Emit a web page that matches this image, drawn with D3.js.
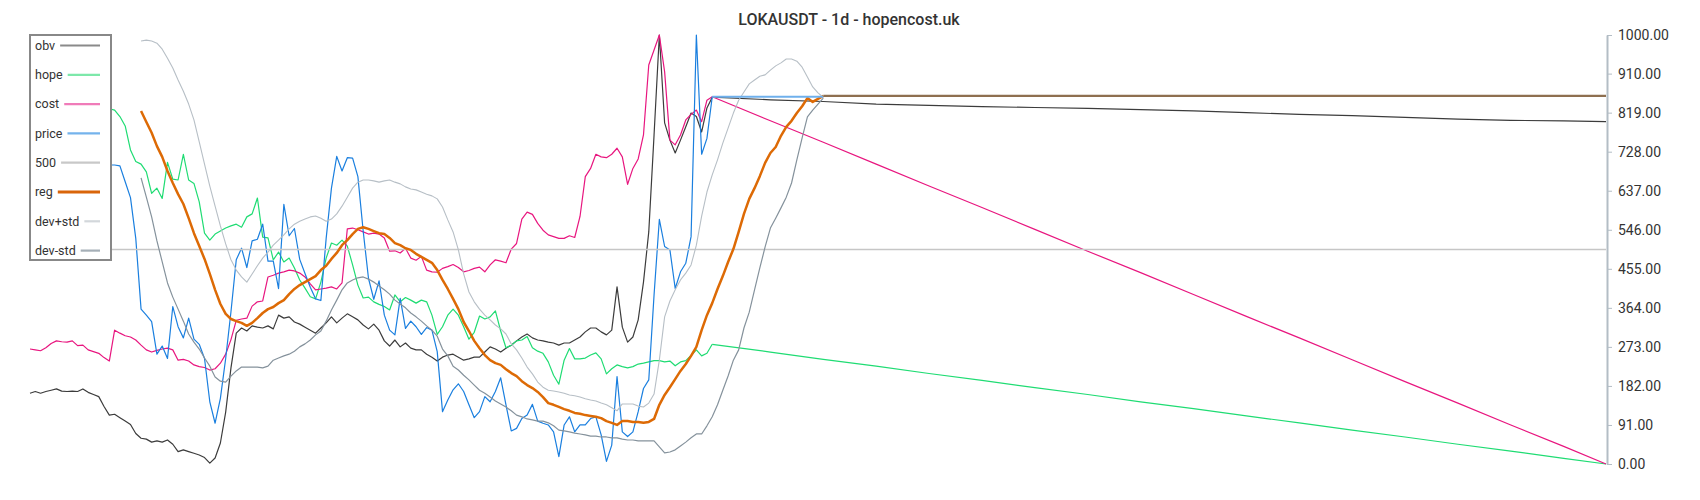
<!DOCTYPE html>
<html lang="en">
  <head>
    <title>LOKAUSDT - 1d</title>
    <script src="https://d3js.org/d3.v7.min.js"></script>
    <style>
      body
      {
        margin: 0;
        background: #fff;
      }
      svg
      {
        font-family: Roboto, "Noto Sans", sans-serif;
      }
      path.series
      {
        fill: none;
        stroke-linejoin: round;
      }
    </style>
  </head>
  <body>
    <svg width="1700" height="500">
      <g id="lines"></g>
      <g id="axis"></g>
      <g id="legend"></g>
    </svg>

    <script>
      // day index 0..lastDay, one value per day
      var lastDay = 298;
      var yTicks = [0, 91, 182, 273, 364, 455, 546, 637, 728, 819, 910, 1000];

      // obv, hope, cost, price: days 0..129
      var obv = [165,169,165,169,172,175,170,169,170,169,175,167,162,157,134,114,116,108,100,92,
                 71,60,58,51,54,51,56,46,29,33,29,25,21,15,
                 2,14,49,121,224,305,317,310,322,319,317,322,315,347,340,343,331,326,319,312,
                 305,317,329,343,329,340,350,343,336,324,315,326,312,
                 287,275,289,273,282,270,266,266,256,249,240,249,254,256,249,242,245,249,249,261,
                 273,268,261,270,277,287,296,303,294,289,287,284,282,
                 277,282,282,289,296,308,317,317,308,301,312,413,319,284,296,336,424,541,767,1000,
                 795,755,725,755,786,818,810,774,830,855];

      var hope = [865,860,858,855,850,848,845,845,842,840,838,836,834,832,830,828,
                  825,810,788,732,705,699,681,631,643,619,703,664,662,722,662,654,611,538,
                  522,536,543,550,555,559,552,576,583,620,529,527,476,494,471,480,457,429,410,390,
                  385,424,480,515,510,522,508,464,417,387,389,378,372,
                  367,359,394,378,388,382,375,382,378,347,302,320,347,361,347,320,291,307,345,338,
                  343,357,310,271,277,287,289,297,271,263,258,238,207,
                  186,242,269,245,245,247,254,259,245,210,222,231,227,224,227,233,235,238,241,241,
                  238,240,229,238,241,253,266,252,258,279];

      var cost = [268,266,264,271,281,287,285,284,287,276,277,266,262,258,248,240,312,305,299,296,
                  289,277,266,261,265,268,270,266,242,244,240,231,227,225,
                  219,222,235,256,290,335,338,340,368,378,380,436,440,445,448,452,450,445,436,420,
                  406,408,410,413,408,422,548,550,546,541,536,538,536,
                  527,496,497,492,503,480,475,484,452,448,447,456,460,465,458,448,451,456,459,448,
                  464,476,473,469,501,514,571,587,582,561,545,534,530,
                  526,526,532,528,577,670,689,722,716,714,722,736,716,652,689,711,767,930,965,1000,
                  914,755,744,767,802,815,825,798,848,856];

      var price = [700,705,698,702,695,700,705,698,700,702,698,700,703,700,698,
                   697,697,695,658,621,526,361,347,332,256,275,246,367,320,294,340,291,279,246,145,
                   95,153,246,355,476,503,458,520,524,559,473,473,409,605,532,549,477,444,412,385,
                   381,526,643,717,683,714,713,670,543,433,384,427,347,
                   312,301,386,316,333,320,302,318,312,262,122,149,173,187,169,138,108,122,157,145,
                   169,201,138,77,83,106,114,139,100,95,91,75,
                   17,91,110,75,91,91,106,110,68,6,44,204,75,64,75,122,176,196,394,570,
                   507,499,409,448,468,530,1000,722,759,856];

      // reg and its bands: days 21..150
      var regStart = 21;
      var reg = [823,797,772,741,716,683,655,629,606,573,538,508,478,
                 443,406,373,350,338,333,329,322,329,340,352,361,366,375,382,396,408,417,424,431,
                 438,452,462,478,492,510,522,536,548,552,548,543,538,
                 536,527,515,510,503,499,490,483,476,469,452,429,408,385,361,331,310,287,270,254,
                 242,235,231,221,212,205,193,184,177,168,156,142,138,
                 133,128,124,119,117,114,112,110,107,100,96,91,100,100,98,98,96,98,105,138,
                 161,179,198,217,233,252,273,312,347,375,
                 408,438,471,501,541,583,618,643,671,702,725,739,765,786,800,818,834,853,844,851,858];

      var devUp = [986,988,986,981,967,946,923,895,869,839,802,751,699,
                   648,601,555,513,476,452,436,424,443,462,480,494,510,522,534,548,559,566,571,576,
                   578,573,566,571,583,601,622,643,657,662,662,660,657,
                   660,662,657,653,646,641,639,634,629,625,618,599,569,541,499,443,401,378,361,347,
                   336,324,315,303,280,266,247,226,210,191,179,172,170,
                   168,165,161,159,156,152,149,147,142,138,131,124,140,140,140,135,133,142,163,242,
                   343,380,406,429,445,464,510,578,634,674,
                   709,748,783,818,848,867,886,895,904,907,918,928,935,944,944,939,925,902,879,865,855];

      var devDn = [667,622,576,520,471,422,389,361,333,303,284,268,247,
                   228,203,193,191,205,217,226,226,226,226,224,228,242,247,252,256,263,273,280,289,
                   301,310,333,359,382,406,422,429,434,436,431,424,415,
                   406,396,382,373,364,352,343,333,322,312,298,268,252,228,219,207,196,184,172,165,
                   156,147,140,133,124,114,110,105,103,100,100,96,89,
                   79,77,75,72,70,68,65,65,63,63,61,61,58,56,56,54,54,54,54,40,
                   26,28,33,42,51,61,70,70,89,110,
                   138,172,205,242,266,317,354,406,457,506,550,573,597,622,655,709,760,809,825,839,853];

      // projection after the last real day, read every ten days
      var tailDays = [129,140,150,160,170,180,190,200,210,220,230,240,250,260,270,280,290,298];
      var obvTail  = [855,849,845,839,836,833,831,829,826,823,819,815,812,808,804,801,800,798];
      var costTail = [856,800,750,699,648,598,547,496,446,395,344,294,243,192,142,91,41,0];
      var hopeTail = [279,261,244,228,211,195,178,162,145,129,112,96,79,63,46,30,13,0];

      var priceFlatDays = [129, 150];
      var priceFlat = [856, 856];
      var regFlatDays = [150, 298];
      var regFlat = [858, 858];
      var level500 = 500;

      var x = d3.scaleLinear().domain([0, lastDay]).range([30, 1606]);
      var y = d3.scaleLinear().domain([0, 1000]).range([464, 35]);

      function pts(values, start)
      {
        return values.map(function(v, i){ return [start + i, v]; });
      }
      function zipDays(days, values)
      {
        return days.map(function(d, i){ return [d, values[i]]; });
      }

      var line = d3.line().x(function(d){ return x(d[0]); })
                          .y(function(d){ return y(d[1]); });

      var series = [
        {name: "obv",     color: "#3c3c3c", key: "#8a8a8a", width: 1.2,
         parts: [pts(obv, 0), zipDays(tailDays, obvTail)]},
        {name: "hope",    color: "#1fdc73", key: "#7de8aa", width: 1.2,
         parts: [pts(hope, 0), zipDays(tailDays, hopeTail)]},
        {name: "cost",    color: "#e8167f", key: "#f07bb9", width: 1.2,
         parts: [pts(cost, 0), zipDays(tailDays, costTail)]},
        {name: "price",   color: "#1a7fdf", key: "#74b3ec", width: 1.2,
         parts: [pts(price, 0)]},
        {name: "500",     color: "#c6c6c6", key: "#c8c8c8", width: 1.6,
         parts: [[[0, level500], [lastDay, level500]]]},
        {name: "reg",     color: "#dd6a05", key: "#d9650a", width: 2.5,
         parts: [pts(reg, regStart)]},
        {name: "dev+std", color: "#b7bfc6", key: "#d3d7db", width: 1.1,
         parts: [pts(devUp, regStart)]},
        {name: "dev-std", color: "#85929c", key: "#a5afb7", width: 1.2,
         parts: [pts(devDn, regStart)]}
      ];

      var g = d3.select("svg g#lines");

      series.forEach(function(s)
      {
        g.selectAll(null).data(s.parts).enter().append("path")
         .attr("class", "series")
         .attr("d", line)
         .attr("stroke", s.color)
         .attr("stroke-width", s.width);
      });

      // flat stretch of price, then reg sitting on the same level
      g.append("path").attr("class", "series")
       .attr("d", line(zipDays(priceFlatDays, priceFlat)))
       .attr("stroke", "#6fb0ec").attr("stroke-width", 2);
      g.append("path").attr("class", "series")
       .attr("d", line(zipDays(regFlatDays, regFlat)))
       .attr("stroke", "#8e6f50").attr("stroke-width", 2.2);

      // right axis
      var axis = d3.axisRight(y).tickValues(yTicks)
                   .tickFormat(d3.format(".2f"))
                   .tickSize(5).tickSizeOuter(0).tickPadding(6);
      var ax = d3.select("svg g#axis").attr("transform", "translate(1607,0)").call(axis);
      ax.select(".domain").attr("stroke", "#b3bdc5").attr("stroke-width", 2);
      ax.selectAll(".tick line").attr("stroke", "#b3bdc5");
      ax.selectAll(".tick text").attr("fill", "#333").style("font-size", "14px")
        .style("font-family", "Roboto, sans-serif");

      // title
      d3.select("svg").append("text")
        .attr("x", 849).attr("y", 25)
        .attr("text-anchor", "middle")
        .attr("fill", "#333")
        .style("font-size", "16px")
        .style("font-weight", 500)
        .text("LOKAUSDT - 1d - hopencost.uk");

      // legend
      var lg = d3.select("svg g#legend");
      lg.append("rect").attr("x", 30).attr("y", 35).attr("width", 81).attr("height", 225)
        .attr("fill", "#fff").attr("stroke", "#888").attr("stroke-width", 2);

      var items = lg.selectAll("g.item").data(series).enter().append("g")
                    .attr("class", "item")
                    .attr("transform", function(d, i){ return "translate(0," + (45.5 + i * 29.3) + ")"; });

      items.append("text")
           .attr("x", 35).attr("dy", "0.35em")
           .attr("fill", "#333")
           .style("font-size", "12.5px")
           .text(function(d){ return d.name; });

      items.each(function(d)
      {
        var w = d3.select(this).select("text").node().getComputedTextLength();
        d3.select(this).append("line")
          .attr("x1", 35 + w + 5).attr("x2", 100)
          .attr("stroke", d.key)
          .attr("stroke-width", d.name == "reg" ? 3 : 2.2);
      });
    </script>
  </body>
</html>
